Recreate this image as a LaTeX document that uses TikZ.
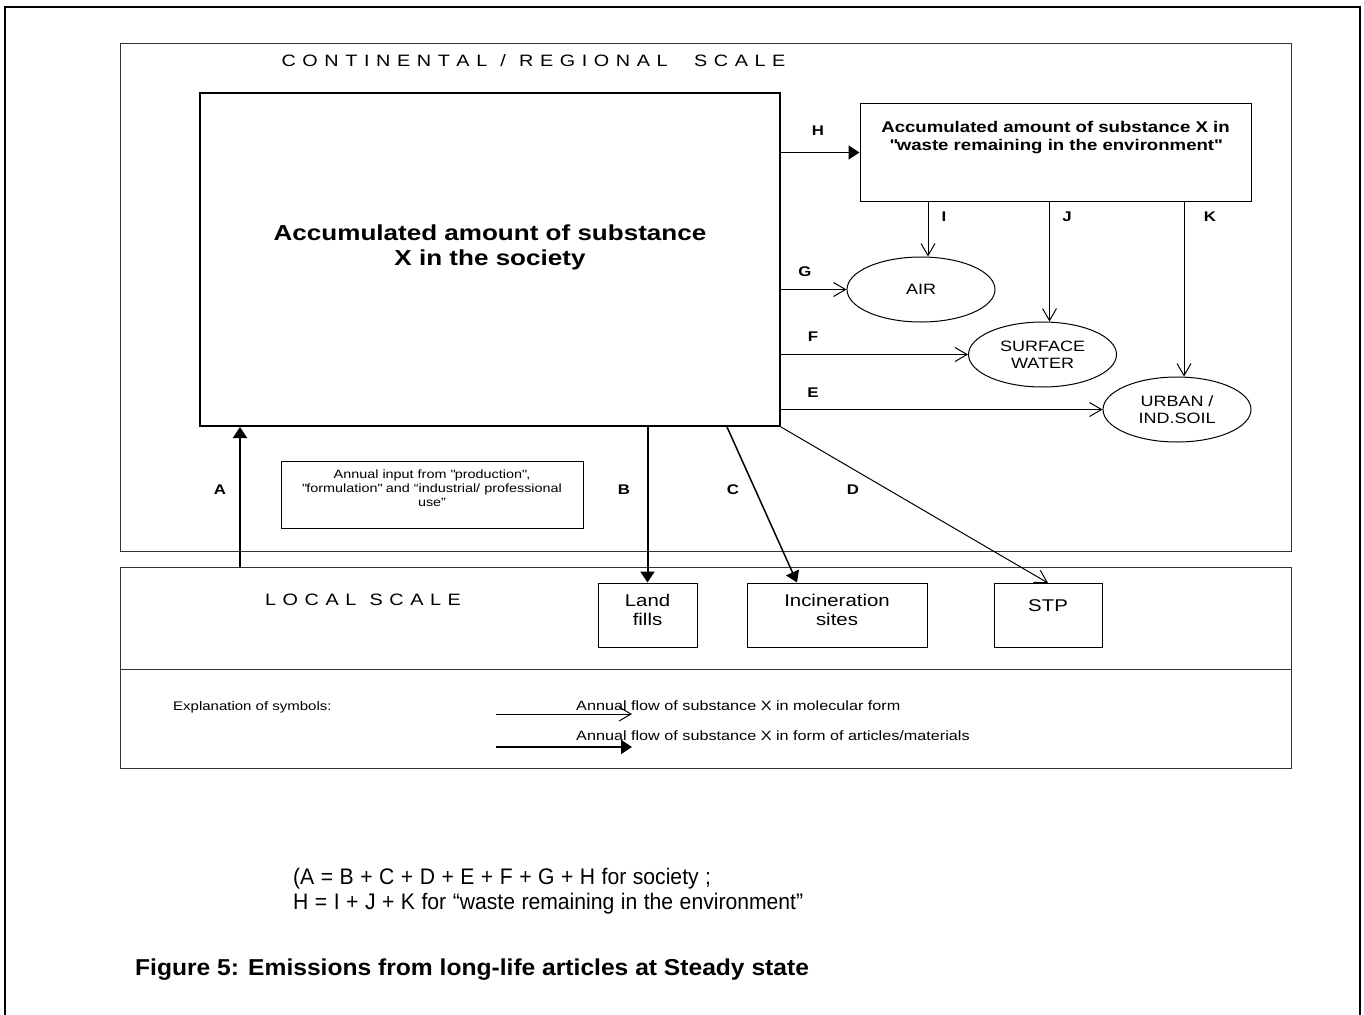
\documentclass[tikz,border=0pt]{standalone}
\usepackage{fontspec}
\setmainfont[FakeStretch=1.2]{Liberation Sans}
\newfontfamily\balancefont[FakeStretch=0.94]{Liberation Sans}
\newfontfamily\capfont[FakeStretch=1.07]{Liberation Sans}
\newcommand{\widespaces}{\spaceskip=6.5pt\relax}
\newcommand{\titlespaces}{\spaceskip=6.6pt\relax}
\usetikzlibrary{shapes.geometric,arrows.meta,positioning}

\begin{document}
\begin{tikzpicture}[x=1pt, y=-1pt,
    scalebox/.style={rectangle, draw=black!80, line width=1pt, inner sep=0pt},
    scaletitle/.style={font=\fontsize{16.5}{18}\selectfont\titlespaces},
    stock/.style={rectangle, draw, line width=2pt, inner sep=0pt},
    stocktext/.style={font=\bfseries\fontsize{21.7}{25}\selectfont, align=center},
    envbox/.style={rectangle, draw, line width=1pt, inner sep=0pt},
    boxtext/.style={align=center, font=\fontsize{12}{14}\selectfont},
    compartment/.style={ellipse, draw, line width=1pt, inner sep=0pt, minimum width=148pt, minimum height=65pt, align=center, font=\fontsize{15}{17}\selectfont},
    sitebox/.style={rectangle, draw, line width=1pt, inner sep=0pt, minimum height=64pt},
    sitetext/.style={align=center, font=\fontsize{17}{19}\selectfont},
    flowlbl/.style={font=\bfseries\fontsize{14}{16}\selectfont},
    legendtext/.style={anchor=base west, inner sep=0pt, font=\fontsize{13.5}{16}\selectfont},
    molflow/.style={-{Straight Barb[length=12pt, width=14pt]}, line width=1pt},
    artflow/.style={-{Triangle[length=11pt, width=14pt]}, line width=2pt}
]
    \useasboundingbox (0,0) rectangle (1364,1014);
    % Page frame (open at the bottom)
    \draw[line width=2pt] (5,1016) -- (5,7) -- (1360,7) -- (1360,1016);

    % Scales
    \node[scalebox, minimum width=1171pt, minimum height=507pt] (continental) at (705.5,297.5) {};
    \node[scaletitle] (contitle) at (533.5,61) {C O N T I N E N T A L\ \ /\ \ R E G I O N A L\ \ \ \ S C A L E};
    \node[scalebox, minimum width=1171pt, minimum height=102pt] (localbox) at (705.5,618) {};
    \node[scaletitle] (localtitle) at (363,600) {L O C A L\ \ S C A L E};
    \node[scalebox, minimum width=1171pt, minimum height=99pt] (legendbox) at (705.5,718.5) {};

    % Stocks
    \node[stock, minimum width=580pt, minimum height=333pt,
        label={[stocktext, yshift=12pt]center:{Accumulated amount of substance\\X in the society}}] (society) at (490,259.5) {};
    \node[envbox, minimum width=391pt, minimum height=97pt,
        label={[stocktext, font=\bfseries\fontsize{15.5}{18}\selectfont, anchor=north, yshift=-14pt]north:{Accumulated amount of substance X in\\\textquotedbl waste remaining in the environment\textquotedbl}}] (waste) at (1055.5,152.5) {};
    \node[envbox, minimum width=302pt, minimum height=67pt,
        label={[boxtext, yshift=6pt]center:{Annual input from \textquotedbl production\textquotedbl,\\\textquotedbl formulation\textquotedbl{} and “industrial/ professional\\use”}}] (annual) at (432,494.5) {};

    % Environmental compartments
    \node[compartment] (air) at (921,289.5) {AIR};
    \node[compartment] (surface) at (1042.5,354.5) {SURFACE\\WATER};
    \node[compartment] (urban) at (1177,409.5) {URBAN /\\IND.SOIL};

    % Local sites
    \node[sitebox, minimum width=99pt, label={[sitetext, yshift=5pt]center:{Land\\fills}}] (landfill) at (647.5,615) {};
    \node[sitebox, minimum width=180pt, label={[sitetext, yshift=5pt]center:{Incineration\\sites}}] (incin) at (837,615) {};
    \node[sitebox, minimum width=108pt, label={[sitetext, yshift=10pt]center:STP}] (stp) at (1048,615.5) {};

    % Flows
    \coordinate (afoot) at (240,567);
    \draw[artflow] (afoot) -- (afoot |- society.south);
    \draw[artflow] (society.south -| landfill.north) -- (landfill.north);
    \draw[artflow, line width=1.5pt] ([xshift=-54pt]society.south east) -- ([xshift=-40pt]incin.north);
    \draw[molflow] (society.south east) -- (stp.north);
    \draw[molflow] (society.east |- urban.west) -- (urban.west);
    \draw[molflow] (society.east |- surface.west) -- (surface.west);
    \draw[molflow] (society.east |- air.west) -- (air.west);
    \draw[artflow, line width=1.5pt] (society.east |- waste.west) -- (waste.west);
    \draw[molflow] ([xshift=7pt]air.north |- waste.south) -- ([xshift=7pt]air.north);
    \draw[molflow] ([xshift=7pt]surface.north |- waste.south) -- ([xshift=7pt]surface.north);
    \draw[molflow] ([xshift=7pt]urban.north |- waste.south) -- ([xshift=7pt]urban.north);

    % Flow labels
    \node[flowlbl] (lblA) at (220,490) {A};
    \node[flowlbl] (lblB) at (624,490) {B};
    \node[flowlbl] (lblC) at (733,490) {C};
    \node[flowlbl] (lblD) at (853,490) {D};
    \node[flowlbl] (lblE) at (813,393) {E};
    \node[flowlbl] (lblF) at (813,337) {F};
    \node[flowlbl] (lblG) at (805,272) {G};
    \node[flowlbl] (lblH) at (818,131) {H};
    \node[flowlbl] (lblI) at (944,217) {I};
    \node[flowlbl] (lblJ) at (1067,217) {J};
    \node[flowlbl] (lblK) at (1210,217) {K};

    % Legend
    \node[anchor=base west, inner sep=0pt, font=\fontsize{12.5}{15}\selectfont] (legendtitle) at (173,710) {Explanation of symbols:};
    \coordinate (molstart) at (496,714);
    \coordinate (molend) at (632,714);
    \draw[molflow] (molstart) -- (molend);
    \node[legendtext] (moltext) at (576,710) {Annual flow of substance X in molecular form};
    \coordinate (artstart) at (496,747);
    \coordinate (artend) at (632,747);
    \draw[artflow] (artstart) -- (artend);
    \node[legendtext] (arttext) at (576,740) {Annual flow of substance X in form of articles/materials};

    % Balance and caption
    \node[anchor=north west, inner sep=0pt, align=left, font=\balancefont\fontsize{22.5}{25}\selectfont\widespaces] (balance) at (293,867.5) {(A = B + C + D + E + F + G + H for society ;\\H = I + J + K for “waste remaining in the environment”};
    \node[anchor=base west, inner sep=0pt, font=\capfont\bfseries\fontsize{23}{26}\selectfont] (caption) at (135,975) {Figure 5: Emissions from long-life articles at Steady state};
\end{tikzpicture}
\end{document}
